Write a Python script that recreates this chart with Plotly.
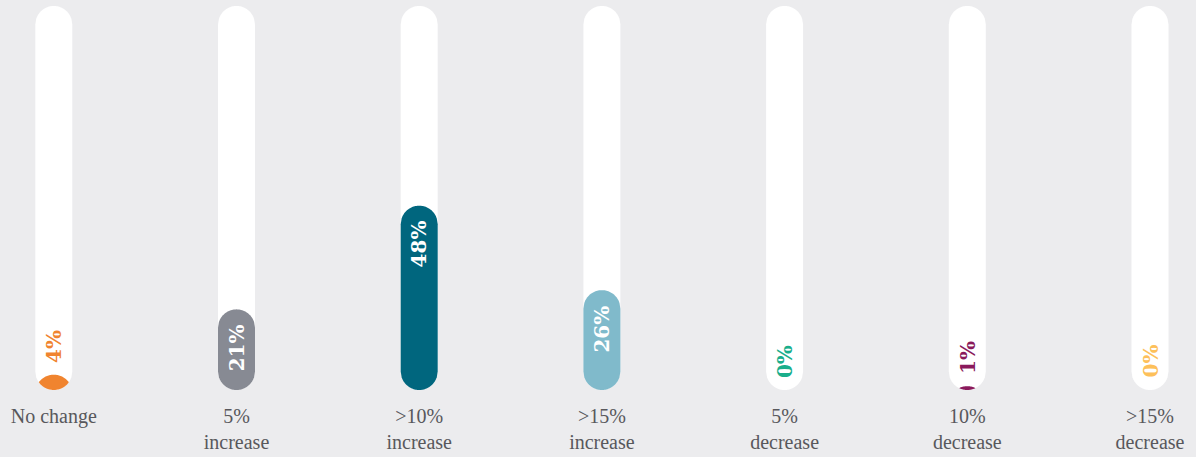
import math
import plotly.graph_objects as go

# Survey responses: expected change, share of respondents (%)
categories = ["No change", "5%<br>increase", ">10%<br>increase", ">15%<br>increase",
              "5%<br>decrease", "10%<br>decrease", ">15%<br>decrease"]
values = [4, 21, 48, 26, 0, 1, 0]
colors = ["#F0842F", "#878A93", "#00667E", "#80BACB", "#1AAE8B", "#8A1A5C", "#FDC05A"]
scale_max = 100

BG = "#ECECEE"
W, H = 1196, 457
MARGIN = dict(l=0, r=0, t=6, b=67)
X_RANGE = [-0.2945, 6.2518]
BAR_R = 18.5            # cap radius of the rounded bars, px
INSIDE_MIN = 15         # values at or above this get their label inside the bar

# pixels per data unit on each axis (used to keep the caps circular)
px_x = (W - MARGIN["l"] - MARGIN["r"]) / (X_RANGE[1] - X_RANGE[0])
px_y = (H - MARGIN["t"] - MARGIN["b"]) / scale_max


def capsule_path(cx, v0, v1, n=40):
    """Rounded bar from v0 to v1 centred on category cx.
    Short bars collapse into the lens where the two end caps overlap."""
    r = BAR_R
    h = (v1 - v0) * px_y
    if h <= 0:
        return None
    u_max = r if h >= 2 * r else math.sqrt(r * r - (r - h / 2) ** 2)
    us = [-u_max + 2 * u_max * i / n for i in range(n + 1)]
    lower = [(u, r - math.sqrt(max(r * r - u * u, 0))) for u in us]
    upper = [(u, h - r + math.sqrt(max(r * r - u * u, 0))) for u in reversed(us)]
    pts = [(cx + u / px_x, v0 + y / px_y) for u, y in lower + upper]
    return "M" + "L".join(f"{x:.5f},{y:.4f}" for x, y in pts) + "Z"


fig = go.Figure()

shapes = []
for i, (v, col) in enumerate(zip(values, colors)):
    # white track
    shapes.append(dict(type="path", xref="x", yref="y", path=capsule_path(i, 0, scale_max),
                       fillcolor="white", line=dict(width=0), layer="below"))
    # value bar
    p = capsule_path(i, 0, v)
    if p:
        shapes.append(dict(type="path", xref="x", yref="y", path=p,
                           fillcolor=col, line=dict(width=0), layer="below"))

# Rotated value labels
for i, (v, col) in enumerate(zip(values, colors)):
    inside = v >= INSIDE_MIN
    fig.add_annotation(
        x=i, y=v, xref="x", yref="y",
        text=f"<b>{v}%</b>", textangle=-90, showarrow=False,
        yanchor="top" if inside else "bottom",
        yshift=-13 if inside else 10,
        font=dict(family="DejaVu Serif", size=20, color="white" if inside else col),
    )

fig.update_layout(
    width=W, height=H,
    margin=dict(**MARGIN, autoexpand=False),
    paper_bgcolor=BG, plot_bgcolor=BG,
    showlegend=False,
    shapes=shapes,
    xaxis=dict(
        range=X_RANGE, automargin=False,
        tickmode="array", tickvals=list(range(len(categories))), ticktext=categories,
        showgrid=False, zeroline=False, showline=False, ticks="",
        ticklabelstandoff=12, fixedrange=True,
        tickfont=dict(family="Liberation Serif", size=20, color="#58585C"),
    ),
    yaxis=dict(range=[0, scale_max], automargin=False, visible=False, fixedrange=True),
)

fig.write_html("out.html")
